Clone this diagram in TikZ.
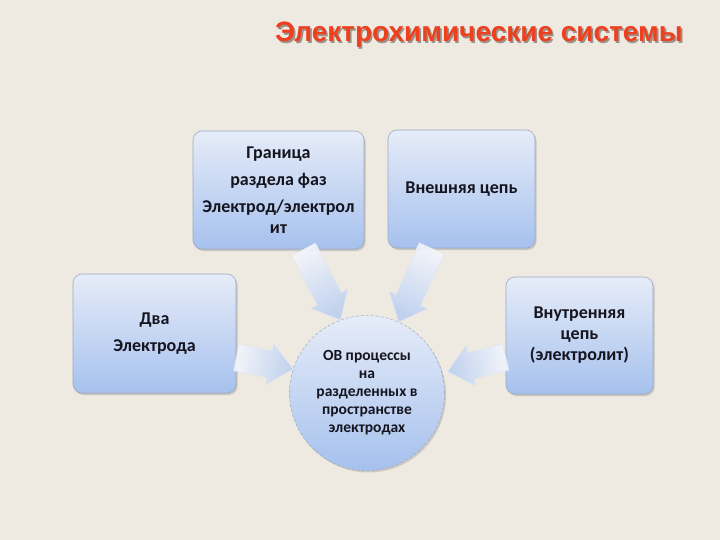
\documentclass[tikz,border=0pt]{standalone}
\usepackage{fontspec}
\setmainfont{Carlito}
\newfontfamily\titlefont{Liberation Sans}
\usetikzlibrary{calc,shadows}
\definecolor{bg}{HTML}{EEEAE2}
\definecolor{boxtop}{HTML}{E6ECF8}
\definecolor{boxbot}{HTML}{A6C1EE}
\definecolor{boxline}{HTML}{9AAAC2}
\definecolor{titlered}{HTML}{EE3F1E}
\definecolor{titleshade}{HTML}{9C928A}
\definecolor{arrtail}{HTML}{F3F5FB}
\definecolor{arrhead}{HTML}{BDD0F0}
\definecolor{textc}{HTML}{15151F}
\newcommand\blkarrow[3]{%
  \coordinate (hb) at ($(#2)!24pt!(#1)$);
  \shade[arrowstyle, shading angle=#3]
    ($(#1)!13.5pt!90:(#2)$) -- ($(hb)!13.5pt!90:(#2)$) -- ($(hb)!21pt!90:(#2)$) --
    (#2) --
    ($(hb)!21pt!-90:(#2)$) -- ($(hb)!13.5pt!-90:(#2)$) -- ($(#1)!13.5pt!-90:(#2)$) -- cycle;
}
\newcommand\shadowtext[1]{\makebox[0pt][l]{\hspace{1.6pt}\raisebox{-2pt}{\textcolor{titleshade}{#1}}}\textcolor{titlered}{#1}}
\begin{document}
\begin{tikzpicture}[x=1pt,y=-1pt,
  box/.style={draw=boxline, line width=0.6pt, rounded corners=9pt,
    top color=boxtop, bottom color=boxbot,
    drop shadow={opacity=0.35,shadow xshift=1.5pt,shadow yshift=-2pt},
    font=\bfseries\fontsize{18}{21}\selectfont, text=textc, align=center, inner sep=0pt},
  ovcircle/.style={circle, draw=boxline, line width=0.5pt, densely dashed,
    top color=boxtop, bottom color=boxbot, minimum size=155pt, inner sep=0pt,
    drop shadow={opacity=0.3,shadow xshift=1.5pt,shadow yshift=-2pt},
    font=\bfseries\fontsize{15.5}{18}\selectfont, text=textc, align=center},
  arrowstyle/.style={top color=arrtail, bottom color=arrhead, draw=white!70!boxline,
    line width=0.5pt, fill opacity=0.92},
  titlestyle/.style={font=\titlefont\bfseries\fontsize{28}{32}\selectfont, inner sep=0pt}
]
\fill[bg] (0,0) rectangle (720,540);
\useasboundingbox (0,0) rectangle (720,540);

\node[titlestyle] (title) at (479,36) {\shadowtext{Электрохимические системы}};

\node[box, minimum width=171pt, minimum height=118pt] (b1) at (278.5,190)
  {Граница\\[6pt]раздела фаз\\[6pt]Электрод/электрол\\ит};
\node[box, minimum width=147pt, minimum height=118pt] (b2) at (461.5,189)
  {Внешняя цепь};
\node[box, minimum width=163pt, minimum height=119pt] (b3) at (154.5,333.5)
  {Два\\[6pt]Электрода};
\node[box, minimum width=147pt, minimum height=117pt] (b4) at (579.5,335.5)
  {Внутренняя\\цепь\\(электролит)};

\node[ovcircle] (c) at (367,393)
  {ОВ процессы\\на\\разделенных в\\пространстве\\электродах};

\coordinate (a1s) at ($(b1.south)+(25,0)$);
\coordinate (a1e) at (c.110);
\coordinate (a2s) at ($(b2.south)+(-30,0)$);
\coordinate (a2e) at (c.66);
\coordinate (a3s) at ($(b3.east)+(0,24)$);
\coordinate (a3e) at (c.162);
\coordinate (a4s) at ($(b4.west)+(0,21.5)$);
\coordinate (a4e) at ($(c.16)+(6,0)$);

\blkarrow{a1s}{a1e}{27}
\blkarrow{a2s}{a2e}{-24}
\blkarrow{a3s}{a3e}{79}
\blkarrow{a4s}{a4e}{-77}
\end{tikzpicture}
\end{document}
